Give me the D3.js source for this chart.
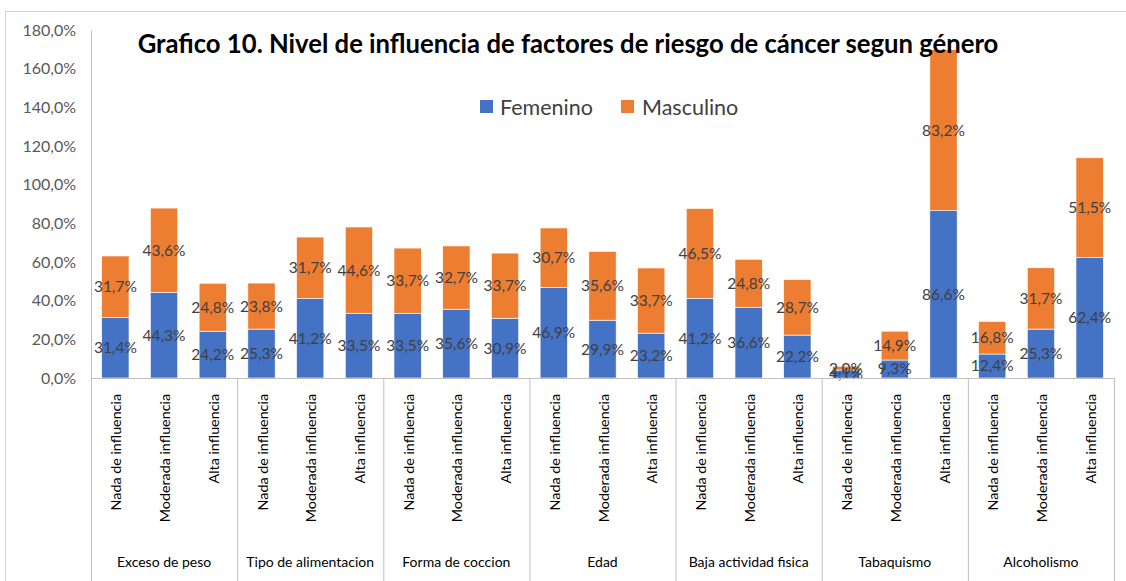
<!DOCTYPE html>
<html><head><meta charset="utf-8">
<script src="https://cdn.jsdelivr.net/npm/d3@7"></script>
<style>body{margin:0;background:#fff;}svg{display:block;}text{font-family:Lato,"Open Sans",sans-serif;}</style>
</head><body>
<svg id="c" width="1126" height="581"></svg>
<script>
const title = "Grafico 10. Nivel de influencia de factores de riesgo de cáncer segun género";
const factors = ["Exceso de peso","Tipo de alimentacion","Forma de coccion","Edad","Baja actividad fisica","Tabaquismo","Alcoholismo"];
const levels = ["Nada de influencia","Moderada influencia","Alta influencia"];
const seriesNames = ["Femenino","Masculino"];
const femenino = [31.4,44.3,24.2, 25.3,41.2,33.5, 33.5,35.6,30.9, 46.9,29.9,23.2, 41.2,36.6,22.2, 4.1,9.3,86.6, 12.4,25.3,62.4];
const masculino = [31.7,43.6,24.8, 23.8,31.7,44.6, 33.7,32.7,33.7, 30.7,35.6,33.7, 46.5,24.8,28.7, 2.0,14.9,83.2, 16.8,31.7,51.5];
const yTicks = [0,20,40,60,80,100,120,140,160,180];

const colors = ["#4472C4","#ED7D31"];
const svg = d3.select("#c");
const pLeft = 91, pRight = 1114, pTop = 30, pBottom = 378;

// frame
svg.append("rect").attr("x",5.5).attr("y",11.5).attr("width",1130).attr("height",600)
  .attr("fill","none").attr("stroke","#d0d0d0").attr("stroke-width",1);

const rows = [];
factors.forEach((f,fi)=>levels.forEach((l,li)=>{
  const i = fi*3+li;
  rows.push({key:i, factor:f, level:l, Femenino:femenino[i], Masculino:masculino[i]});
}));

const x = d3.scaleBand().domain(rows.map(d=>d.key)).range([pLeft,pRight]).paddingInner(0.44).paddingOuter(0.22);
const y = d3.scaleLinear().domain([0,180]).range([pBottom,pTop]);
const groupX = d3.scaleBand().domain(factors).range([pLeft,pRight]);

const stack = d3.stack().keys(seriesNames)(rows);

// y axis
const yAxis = svg.append("g").attr("transform",`translate(${pLeft},0)`)
  .call(d3.axisLeft(y).tickValues(yTicks).tickSize(0).tickPadding(15)
    .tickFormat(d=>d3.format(".1f")(d).replace(".",",")+"%"));
yAxis.select(".domain").attr("stroke","#bfbfbf");
yAxis.selectAll("text").attr("font-size",16).attr("fill","#595959").attr("font-family","Lato");

// bars
stack.forEach((s,si)=>{
  svg.append("g").selectAll("rect").data(s).join("rect")
    .attr("x",d=>x(d.data.key)).attr("width",x.bandwidth())
    .attr("y",d=>y(d[1])).attr("height",d=>y(d[0])-y(d[1]))
    .attr("fill",colors[si]).attr("stroke","#fff").attr("stroke-width",0.6);
});
stack.forEach((s,si)=>{
  svg.append("g").selectAll("text").data(s).join("text")
    .attr("x",d=>x(d.data.key)+x.bandwidth()/2)
    .attr("y",d=>(y(d[0])+y(d[1]))/2)
    .attr("dy","0.35em").attr("text-anchor","middle")
    .attr("font-size",15.5).attr("fill","#404040")
    .text(d=>d3.format(".1f")(d[1]-d[0]).replace(".",",")+"%");
});

// x axis
svg.append("line").attr("x1",pLeft).attr("x2",pRight).attr("y1",pBottom+0.5).attr("y2",pBottom+0.5).attr("stroke","#bfbfbf");
const seps = factors.map(f=>groupX(f)).concat([pRight]);
svg.append("g").selectAll("line").data(seps).join("line")
  .attr("x1",d=>d+0.5).attr("x2",d=>d+0.5).attr("y1",pBottom).attr("y2",581)
  .attr("stroke","#bfbfbf");

svg.append("g").selectAll("text").data(rows).join("text")
  .attr("transform",d=>`translate(${x(d.key)+x.bandwidth()/2+6},${394}) rotate(-90)`)
  .attr("text-anchor","end").attr("font-size",14.3).attr("fill","#000")
  .text(d=>d.level);

svg.append("g").selectAll("text").data(factors).join("text")
  .attr("x",d=>groupX(d)+groupX.bandwidth()/2).attr("y",567)
  .attr("text-anchor","middle").attr("font-size",14).attr("fill","#000")
  .text(d=>d);

// title
const t = svg.append("text").attr("x",568).attr("y",53).attr("text-anchor","middle")
  .attr("font-weight","bold").attr("font-size",21).attr("fill","#000").text(title);
const tw = t.node().getComputedTextLength();
t.attr("font-size",21*861/tw);

// legend
const legend = [{n:seriesNames[0],x:480,tx:500},{n:seriesNames[1],x:621,tx:642}];
legend.forEach((l,i)=>{
  svg.append("rect").attr("x",l.x).attr("y",100).attr("width",13).attr("height",13).attr("fill",colors[i]);
  svg.append("text").attr("x",l.tx).attr("y",107).attr("dy","0.35em").attr("font-size",21.5).attr("fill","#404040").text(l.n);
});
</script>
</body></html>
